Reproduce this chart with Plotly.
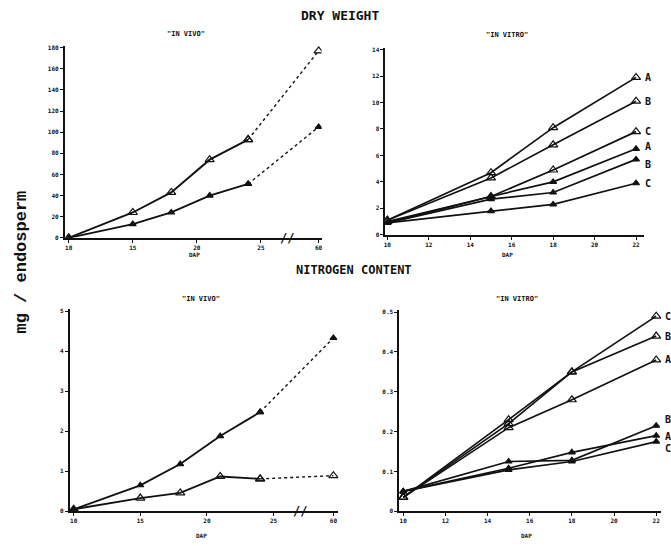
import plotly.graph_objects as go

# ---------------- data ----------------
DAP_VIVO = [10, 15, 18, 21, 24, 60]
DAP_VITRO = [10, 15, 18, 22]
BREAK_POS = 29.5          # plotted position of day 60 on the broken axis
BREAK_MARK = 27.0         # where the axis break symbol sits

VIVO_XTICKS = [10, 15, 20, 25, 60]
VITRO_XTICKS = [10, 12, 14, 16, 18, 20, 22]

dw_vivo_open = [0, 24, 43, 74, 93, 177]
dw_vivo_filled = [0, 13, 24, 40, 51, 105]

dw_vitro_open_A = [1.1, 4.7, 8.1, 11.9]
dw_vitro_open_B = [1.1, 4.3, 6.8, 10.1]
dw_vitro_open_C = [1.0, 2.9, 4.9, 7.8]
dw_vitro_filled_A = [0.9, 2.9, 4.0, 6.5]
dw_vitro_filled_B = [0.9, 2.7, 3.2, 5.7]
dw_vitro_filled_C = [0.9, 1.8, 2.3, 3.9]

n_vivo_filled = [0.05, 0.65, 1.18, 1.88, 2.48, 4.33]
n_vivo_open = [0.05, 0.33, 0.46, 0.87, 0.81, 0.89]

n_vitro_open_C = [0.035, 0.23, 0.35, 0.49]
n_vitro_open_B = [0.035, 0.22, 0.35, 0.44]
n_vitro_open_A = [0.035, 0.21, 0.28, 0.38]
n_vitro_filled_B = [0.05, 0.125, 0.128, 0.215]
n_vitro_filled_A = [0.05, 0.108, 0.148, 0.19]
n_vitro_filled_C = [0.05, 0.104, 0.125, 0.175]

# ---------------- helpers ----------------
W, H = 671, 546
MONO = "DejaVu Sans Mono"
INK = "#111111"


def px_x(a, b):
    return [a / W, b / W]


def px_y(top, bottom):
    return [1 - bottom / H, 1 - top / H]


def vivo_pos(days):
    return [d if d <= 25 else BREAK_POS for d in days]


fig = go.Figure()


def add_series(xa, ya, xs, ys, filled, dashed_tail=False):
    sym = "triangle-up" if filled else "triangle-up-open"
    size = 6 if filled else 8
    marker = dict(symbol=sym, size=size, color=INK, line=dict(color=INK, width=1.2))
    if dashed_tail:
        fig.add_trace(go.Scatter(x=xs[:-1], y=ys[:-1], mode="lines+markers", xaxis=xa, yaxis=ya,
                                 line=dict(color=INK, width=1.9), marker=marker, showlegend=False))
        fig.add_trace(go.Scatter(x=xs[-2:], y=ys[-2:], mode="lines+markers", xaxis=xa, yaxis=ya,
                                 line=dict(color=INK, width=1.4, dash="3px,3px"), marker=marker,
                                 showlegend=False))
    else:
        fig.add_trace(go.Scatter(x=xs, y=ys, mode="lines+markers", xaxis=xa, yaxis=ya,
                                 line=dict(color=INK, width=1.7), marker=marker, showlegend=False))


# top-left: dry weight in vivo
add_series("x", "y", vivo_pos(DAP_VIVO), dw_vivo_open, False, True)
add_series("x", "y", vivo_pos(DAP_VIVO), dw_vivo_filled, True, True)
# top-right: dry weight in vitro
for s in (dw_vitro_open_A, dw_vitro_open_B, dw_vitro_open_C):
    add_series("x2", "y2", DAP_VITRO, s, False)
for s in (dw_vitro_filled_A, dw_vitro_filled_B, dw_vitro_filled_C):
    add_series("x2", "y2", DAP_VITRO, s, True)
# bottom-left: nitrogen in vivo
add_series("x3", "y3", vivo_pos(DAP_VIVO), n_vivo_filled, True, True)
add_series("x3", "y3", vivo_pos(DAP_VIVO), n_vivo_open, False, True)
# bottom-right: nitrogen in vitro
for s in (n_vitro_open_C, n_vitro_open_B, n_vitro_open_A):
    add_series("x4", "y4", DAP_VITRO, s, False)
for s in (n_vitro_filled_B, n_vitro_filled_A, n_vitro_filled_C):
    add_series("x4", "y4", DAP_VITRO, s, True)

tickfont = dict(family=MONO, size=6, color=INK, weight="bold")


def axis(domain, rng, vals, texts, anchor):
    return dict(domain=domain, range=rng, tickvals=vals, ticktext=texts, anchor=anchor,
                showline=True, linecolor=INK, linewidth=1.6, showgrid=False, zeroline=False,
                ticks="outside", ticklen=3, tickwidth=1, tickcolor=INK, tickfont=tickfont,
                fixedrange=True)


vivo_xvals = vivo_pos(VIVO_XTICKS)
vivo_xtext = [str(v) for v in VIVO_XTICKS]
vitro_xtext = [str(v) for v in VITRO_XTICKS]

dw_vivo_y = list(range(0, 181, 20))
dw_vitro_y = list(range(0, 15, 2))
n_vivo_y = [0, 1, 2, 3, 4, 5]
n_vitro_y = [0, 0.1, 0.2, 0.3, 0.4, 0.5]

Y4_PX = (311, 514)
Y4_RANGE = [0, 0.505]

fig.update_layout(
    width=W, height=H, margin=dict(l=0, r=0, t=0, b=0),
    paper_bgcolor="white", plot_bgcolor="white",
    xaxis=axis(px_x(63, 321), [9.69, 29.73], vivo_xvals, vivo_xtext, "y"),
    yaxis=axis(px_y(44, 238), [0, 182], dw_vivo_y, [str(v) for v in dw_vivo_y], "x"),
    xaxis2=axis(px_x(385, 645), [9.9, 22.39], VITRO_XTICKS, vitro_xtext, "y2"),
    yaxis2=axis(px_y(46, 235), [0, 14.15], dw_vitro_y, [str(v) for v in dw_vitro_y], "x2"),
    xaxis3=axis(px_x(68, 338), [9.70, 29.88], vivo_xvals, vivo_xtext, "y3"),
    yaxis3=axis(px_y(310, 514), [0, 5.05], n_vivo_y, [str(v) for v in n_vivo_y], "x3"),
    xaxis4=axis(px_x(399, 662), [9.81, 22.23], VITRO_XTICKS, vitro_xtext, "y4"),
    yaxis4=axis(px_y(*Y4_PX), Y4_RANGE, n_vitro_y, ["0"] + [f"{v:.1f}" for v in n_vitro_y[1:]], "x4"),
)

ann = []


def paper_text(x, y, text, size, weight="bold", family=MONO, angle=0):
    ann.append(dict(x=x / W, y=1 - y / H, xref="paper", yref="paper", text=text, showarrow=False,
                    xanchor="center", yanchor="middle", textangle=angle,
                    font=dict(family=family, size=size, color=INK, weight=weight)))


paper_text(340, 14, "DRY WEIGHT", 13)
paper_text(354, 270, "NITROGEN CONTENT", 12)
paper_text(185, 32, '"IN VIVO"', 7)
paper_text(507, 33, '"IN VITRO"', 7)
paper_text(200, 300, '"IN VIVO"', 7)
paper_text(517, 300, '"IN VITRO"', 7)
paper_text(193, 255, "DAP", 6)
paper_text(508, 255, "DAP", 6)
paper_text(200, 538, "DAP", 6)
paper_text(527, 538, "DAP", 6)
paper_text(20, 262, "mg / endosperm", 17, weight="bold", family="Liberation Mono", angle=-90)

# axis break marks
for xa, ya in (("x", "y"), ("x3", "y3")):
    ann.append(dict(x=BREAK_MARK, y=0, xref=xa, yref=ya, text="//", showarrow=False,
                    xanchor="center", yanchor="middle",
                    font=dict(family=MONO, size=12, color=INK, weight="bold")))

# end-of-line letters (top right)
dw_letters = [("A", dw_vitro_open_A, 0), ("B", dw_vitro_open_B, 0), ("C", dw_vitro_open_C, 0),
              ("A", dw_vitro_filled_A, 2), ("B", dw_vitro_filled_B, -5), ("C", dw_vitro_filled_C, 0)]
for letter, s, dy in dw_letters:
    ann.append(dict(x=DAP_VITRO[-1], y=s[-1], xref="x2", yref="y2", text=letter, showarrow=False,
                    xanchor="left", yanchor="middle", xshift=7, yshift=dy,
                    font=dict(family=MONO, size=10, color=INK, weight="bold")))

# end-of-line letters (bottom right), placed in paper coordinates from the y4 scale
y4_dom = px_y(*Y4_PX)
x_letter = 664 / W
n_letters = [("C", n_vitro_open_C, 0), ("B", n_vitro_open_B, 0), ("A", n_vitro_open_A, 0),
             ("B", n_vitro_filled_B, 6), ("A", n_vitro_filled_A, -1), ("C", n_vitro_filled_C, -7)]
for letter, s, dy in n_letters:
    frac = (s[-1] - Y4_RANGE[0]) / (Y4_RANGE[1] - Y4_RANGE[0])
    yp = y4_dom[0] + frac * (y4_dom[1] - y4_dom[0])
    ann.append(dict(x=x_letter, y=yp, xref="paper", yref="paper", text=letter, showarrow=False,
                    xanchor="left", yanchor="middle", yshift=dy,
                    font=dict(family=MONO, size=10, color=INK, weight="bold")))

fig.update_layout(annotations=ann)
fig.write_html(
    "out.html",
    config={"displayModeBar": False},
    post_script="document.body.style.margin='0';document.body.style.overflow='hidden';",
)
